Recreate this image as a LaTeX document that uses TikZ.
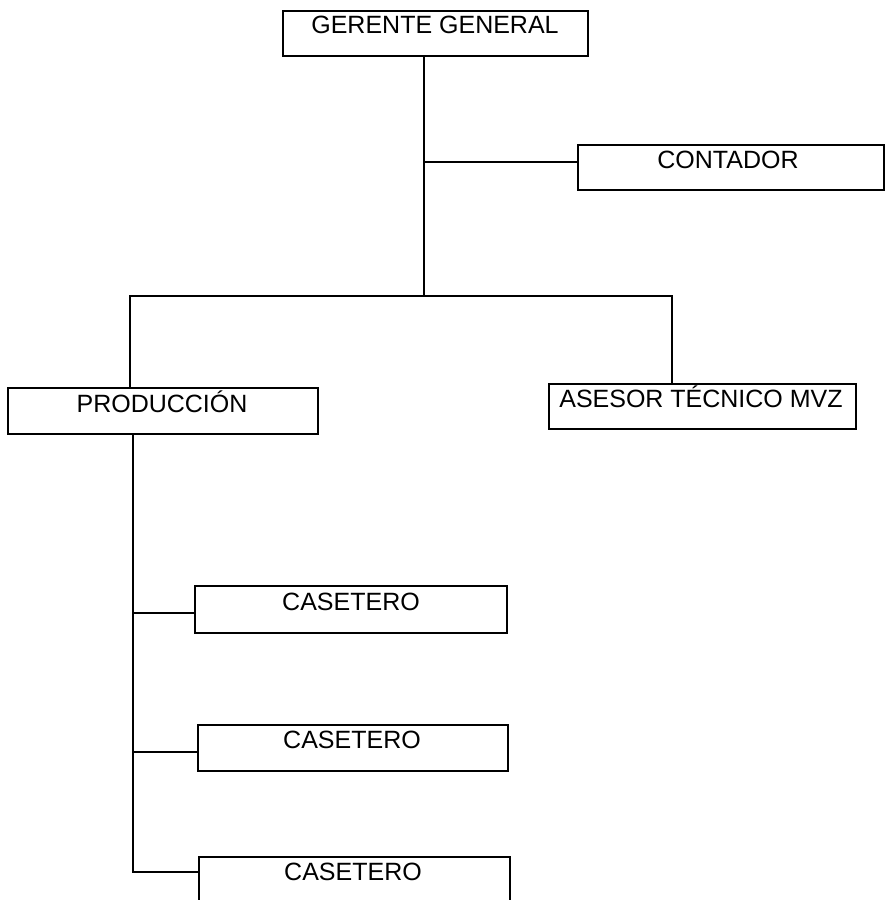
\documentclass[tikz,border=0pt]{standalone}
\usepackage{fontspec}
\setmainfont{Liberation Sans}
\begin{document}
\begin{tikzpicture}[x=1pt,y=-1pt,
  box/.style={draw, line width=1.5pt, inner sep=0pt, anchor=north west},
  wire/.style={line width=1.5pt},
  lbl/.style={anchor=base, inner sep=0pt, font=\fontsize{25}{30}\selectfont}]
\useasboundingbox (0,0) rectangle (890,900);
% boxes
\node[box, minimum width=305pt, minimum height=45pt] (g) at (282,10) {};
\node[box, minimum width=306pt, minimum height=45pt] (c) at (577,144) {};
\node[box, minimum width=310pt, minimum height=46pt] (p) at (7,387) {};
\node[box, minimum width=307pt, minimum height=45pt] (a) at (548,383) {};
\node[box, minimum width=312pt, minimum height=47pt] (k1) at (194,585) {};
\node[box, minimum width=310pt, minimum height=46pt] (k2) at (197,724) {};
\node[box, minimum width=311pt, minimum height=70pt] (k3) at (198,856) {};
% labels
\node[lbl] (gt) at (435,33) {GERENTE GENERAL};
\node[lbl] (ct) at (728,168) {CONTADOR};
\node[lbl] (pt) at (162,412) {PRODUCCIÓN};
\node[lbl] (at) at (701,407) {ASESOR TÉCNICO MVZ};
\node[lbl] (k1t) at (351,610) {CASETERO};
\node[lbl] (k2t) at (352,748) {CASETERO};
\node[lbl] (k3t) at (353,880) {CASETERO};
% junction coordinates
\coordinate (t) at (424,296);
\coordinate (cb) at (424,162);
\coordinate (pl) at (130,296);
\coordinate (pr) at (672,296);
\coordinate (v1) at (133,613);
\coordinate (v2) at (133,752);
\coordinate (v3) at (133,872);
% connectors
\draw[wire] (t |- g.south) -- (t);
\draw[wire] (cb) -- (cb -| c.west);
\draw[wire] (pl |- p.north) -- (pl) -- (pr) -- (pr |- a.north);
\draw[wire] (v1 |- p.south) -- (v3) -- (v3 -| k3.west);
\draw[wire] (v1) -- (v1 -| k1.west);
\draw[wire] (v2) -- (v2 -| k2.west);
\end{tikzpicture}
\end{document}
